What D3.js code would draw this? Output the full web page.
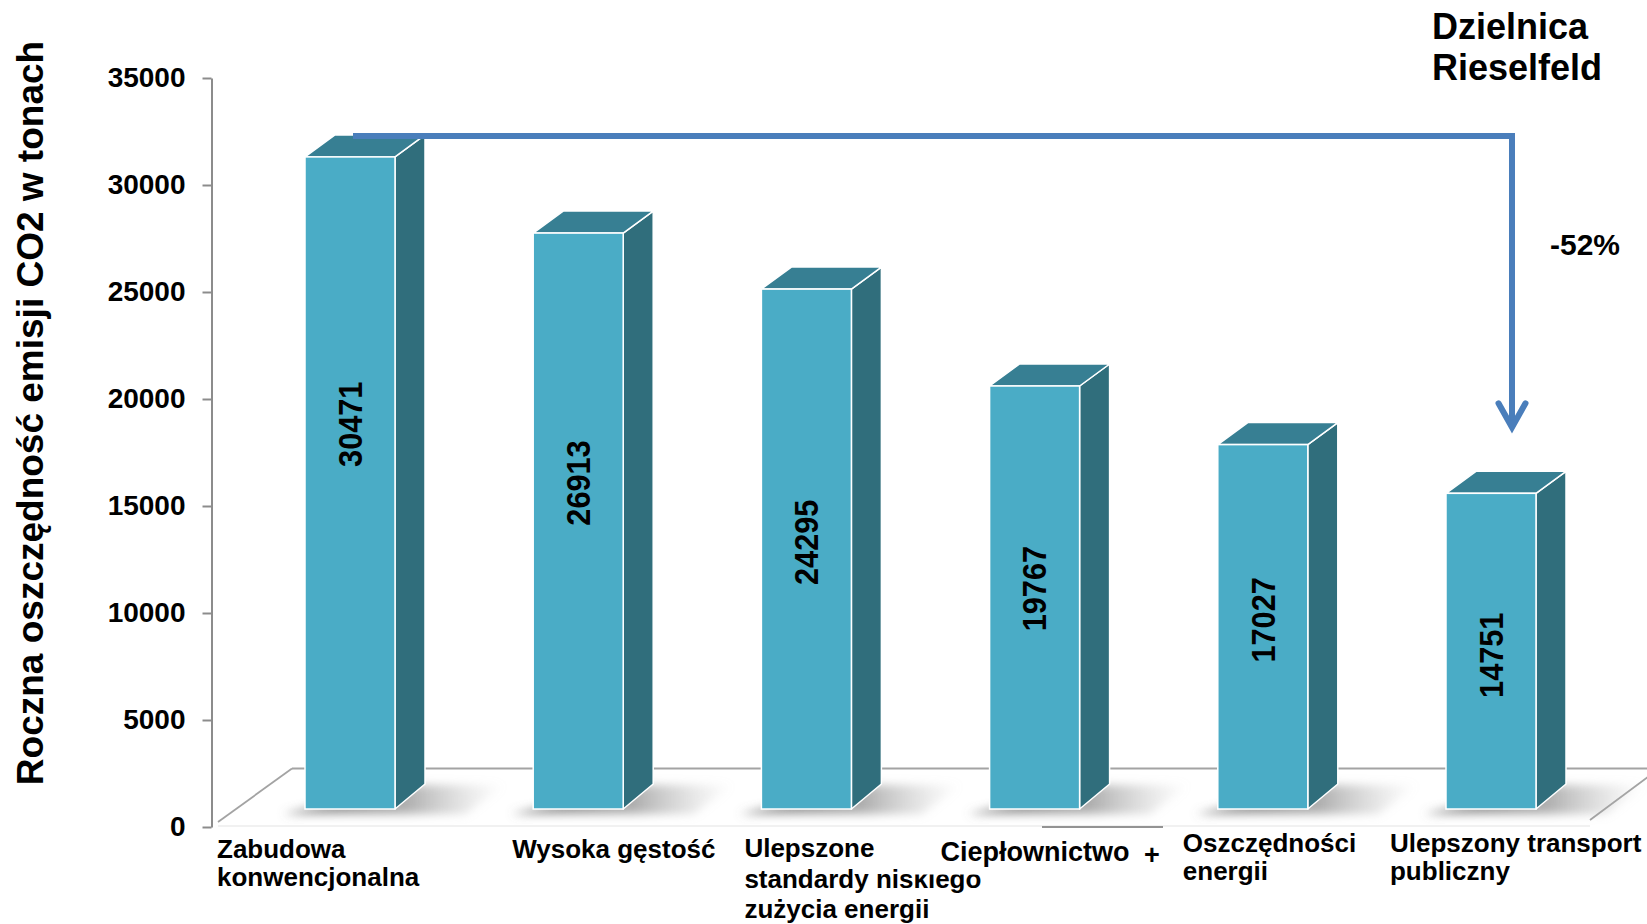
<!DOCTYPE html>
<html>
<head>
<meta charset="utf-8">
<script src="https://cdn.jsdelivr.net/npm/d3@7"></script>
<style>
  html, body { margin: 0; padding: 0; background: #ffffff; }
  svg { display: block; }
  text { font-family: "Liberation Sans", Arial, sans-serif; font-weight: bold; fill: #000; }
</style>
</head>
<body>
<svg id="chart" width="1647" height="924"></svg>
<script>
// ---- data ----
const categories = [
  "Zabudowa\nkonwencjonalna",
  "Wysoka gęstość",
  "Ulepszone\nstandardy niskiego\nzużycia energii",
  "Ciepłownictwo",
  "Oszczędności\nenergii",
  "Ulepszony transport\npubliczny"
];
const values = [30471, 26913, 24295, 19767, 17027, 14751];
const yTicks = [0, 5000, 10000, 15000, 20000, 25000, 30000, 35000];
const yTitle = "Roczna oszczędność emisji CO2 w tonach";
const districtTitle = ["Dzielnica", "Rieselfeld"];

// ---- layout (not data) ----
const labelDx = [-88, -21, -17, -49, -35, -56];
const labelBaseline = [858, 858, 857, 861, 852, 852];
const labelLineH = [28.4, 28.4, 30.5, 28.4, 28.4, 28.4];
const labelSize = [26, 26, 26, 27, 26, 26];
const valueLabelFrac = [0.41, 0.434, 0.487, 0.479, 0.481, 0.513]; // fraction down the front face
const depthX = 30, depthY = 22, frontLift = 18;

const svg = d3.select("#chart");

const x = d3.scaleBand().domain(categories).range([305, 1536]).paddingInner(0.6056).paddingOuter(0);
const y = d3.scaleLinear().domain([0, 35000]).range([827, 78]);
const yFront = v => y(v) - frontLift;
const bw = x.bandwidth();

// defs
const defs = svg.append("defs");
const blur = defs.append("filter").attr("id", "blur").attr("x", "-50%").attr("y", "-50%").attr("width", "200%").attr("height", "200%");
blur.append("feGaussianBlur").attr("stdDeviation", 5);
const sg = defs.append("linearGradient").attr("id", "shadowGrad").attr("x1", "0").attr("x2", "1").attr("y1", "0").attr("y2", "0");
sg.append("stop").attr("offset", "0").attr("stop-color", "#6f6f6f").attr("stop-opacity", 0.85);
sg.append("stop").attr("offset", "0.55").attr("stop-color", "#8a8a8a").attr("stop-opacity", 0.7);
sg.append("stop").attr("offset", "1").attr("stop-color", "#bbbbbb").attr("stop-opacity", 0);

// floor
const floorBackY = y(0) - 58.5;
const floorG = svg.append("g").attr("fill", "none");
floorG.append("line").attr("x1", 292).attr("x2", 1660).attr("y1", floorBackY).attr("y2", floorBackY)
  .attr("stroke", "#a3a3a3").attr("stroke-width", 2);
floorG.append("line").attr("x1", 218).attr("y1", y(0) - 5).attr("x2", 292).attr("y2", floorBackY)
  .attr("stroke", "#a3a3a3").attr("stroke-width", 1.8);
floorG.append("line").attr("x1", 1590).attr("y1", y(0) - 7).attr("x2", 1660).attr("y2", y(0) - 59)
  .attr("stroke", "#a3a3a3").attr("stroke-width", 1.8);
floorG.append("line").attr("x1", 218).attr("x2", 1590).attr("y1", y(0) - 1).attr("y2", y(0) - 1)
  .attr("stroke", "#ececec").attr("stroke-width", 1.5);
floorG.append("line").attr("x1", 1042).attr("x2", 1163).attr("y1", y(0)).attr("y2", y(0))
  .attr("stroke", "#939393").attr("stroke-width", 2);

// shadows
svg.append("g").selectAll("path").data(values).join("path")
  .attr("d", (v, i) => {
    const x0 = x(categories[i]), x1 = x0 + bw, b = yFront(0);
    return `M${x0 - 22},${b + 5} L${x1 + 70},${b + 5} L${x1 + 110},${b - 24} L${x1 + 20},${b - 24} Z`;
  })
  .attr("fill", "url(#shadowGrad)")
  .attr("filter", "url(#blur)");

// bars
const bars = svg.append("g").selectAll("g").data(values).join("g");
bars.append("path") // side
  .attr("d", (v, i) => {
    const x1 = x(categories[i]) + bw, t = yFront(v), b = yFront(0);
    return `M${x1},${t} L${x1 + depthX},${t - depthY} L${x1 + depthX},${b - depthY - 3} L${x1},${b} Z`;
  })
  .attr("fill", "#306e7c").attr("stroke", "#ffffff").attr("stroke-width", 1.5).attr("stroke-linejoin", "round");
bars.append("path") // top
  .attr("d", (v, i) => {
    const x0 = x(categories[i]), x1 = x0 + bw, t = yFront(v);
    return `M${x0},${t} L${x0 + depthX},${t - depthY} L${x1 + depthX},${t - depthY} L${x1},${t} Z`;
  })
  .attr("fill", "#377f93").attr("stroke", "#ffffff").attr("stroke-width", 1.5).attr("stroke-linejoin", "round");
bars.append("rect") // front
  .attr("x", (v, i) => x(categories[i]))
  .attr("y", v => yFront(v))
  .attr("width", bw)
  .attr("height", v => yFront(0) - yFront(v))
  .attr("fill", "#4aacc6").attr("stroke", "#ffffff").attr("stroke-width", 1.5);

// value labels
bars.append("text")
  .attr("transform", (v, i) => {
    const cx = x(categories[i]) + bw / 2;
    const top = yFront(v), bot = yFront(0);
    const cy = top + (bot - top) * valueLabelFrac[i];
    return `translate(${cx},${cy}) rotate(-90) scale(0.93,1)`;
  })
  .attr("text-anchor", "middle")
  .attr("dy", "0.36em")
  .style("font-size", "33px")
  .text(v => d3.format("d")(v));

// y axis
const yAxis = d3.axisLeft(y).tickValues(yTicks).tickFormat(d3.format("d")).tickSize(9).tickSizeOuter(0).tickPadding(17);
const axG = svg.append("g").attr("transform", "translate(211.5,0)").call(yAxis);
axG.select(".domain").attr("stroke", "#8c8c8c").attr("stroke-width", 2);
axG.selectAll(".tick line").attr("stroke", "#8c8c8c").attr("stroke-width", 2);
axG.selectAll(".tick text")
  .attr("fill", "#000")
  .style("font-family", '"Liberation Sans", Arial, sans-serif')
  .style("font-weight", "bold")
  .style("font-size", "28px");

// y title
svg.append("text")
  .attr("transform", "translate(43,413) rotate(-90)")
  .attr("text-anchor", "middle")
  .style("font-size", "37px")
  .text(yTitle);

// category labels
categories.forEach((c, i) => {
  const lines = c.split("\n");
  const t = svg.append("text")
    .attr("x", x(c) + labelDx[i])
    .attr("y", labelBaseline[i])
    .style("font-size", labelSize[i] + "px");
  lines.forEach((ln, j) => {
    t.append("tspan").attr("x", x(c) + labelDx[i]).attr("y", labelBaseline[i] + j * labelLineH[i]).text(ln);
  });
  if (i === 2) {
    // white box of the next label covering part of this one
    svg.append("rect").attr("x", 913.5).attr("y", 830).attr("width", 256).attr("height", 44.5).attr("fill", "#ffffff");
  }
});
svg.append("text").attr("x", 1144).attr("y", 864).style("font-size", "27px").text("+");

// district title
svg.append("text").attr("x", 1432).attr("y", 38.5).style("font-size", "36px").text(districtTitle[0]);
svg.append("text").attr("x", 1432).attr("y", 80).style("font-size", "36px").text(districtTitle[1]);

// reduction arrow
const first = values[0], last = values[values.length - 1];
const ax0 = x(categories[0]) + bw / 2 + 3;
const ay0 = yFront(first) - depthY + 1;
const ax1 = x(categories[categories.length - 1]) + bw / 2 + depthX * 0.7;
const ayTip = yFront(last) - 65;
svg.append("path")
  .attr("d", `M${ax0},${ay0} H${ax1} V${ayTip - 3}`)
  .attr("fill", "none").attr("stroke", "#4a7ebb").attr("stroke-width", 6).attr("stroke-linejoin", "miter");
svg.append("path")
  .attr("d", `M${ax1 - 13.5},${ayTip - 25} L${ax1},${ayTip - 1} L${ax1 + 13.5},${ayTip - 25}`)
  .attr("fill", "none").attr("stroke", "#4a7ebb").attr("stroke-width", 6).attr("stroke-linejoin", "miter").attr("stroke-linecap", "round");

svg.append("text").attr("x", 1550).attr("y", 255).style("font-size", "30px")
  .text(d3.format(".0%")(-(1 - last / first)).replace("−", "-"));
</script>
</body>
</html>
